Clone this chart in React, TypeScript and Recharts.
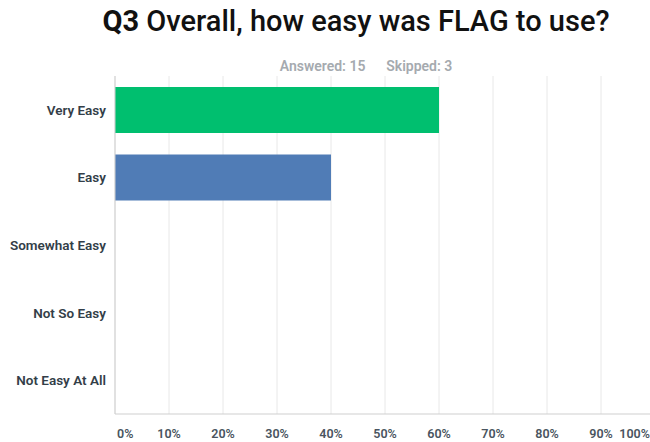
import React from "react";
import { BarChart, Bar, XAxis, YAxis, CartesianGrid, Cell } from "recharts";

const categories = ["Very Easy", "Easy", "Somewhat Easy", "Not So Easy", "Not Easy At All"];
const percents = [60, 40, 0, 0, 0];
const barColors = ["#00BF6F", "#507CB6", "#507CB6", "#507CB6", "#507CB6"];
const xTicks = [0, 10, 20, 30, 40, 50, 60, 70, 80, 90, 100];

const data = categories.map((c, i) => ({ name: c, value: percents[i] }));

const FONT = "Roboto, 'Noto Sans', sans-serif";

const XTick = (props: any) => {
  const { x, y, payload } = props;
  let anchor: "start" | "middle" | "end" = "middle";
  let tx = x;
  if (payload.value === 0) {
    anchor = "start";
    tx = x + 2;
  } else if (payload.value === 100) {
    anchor = "end";
    tx = x - 5;
  }
  return (
    <text x={tx} y={y} dy={24} textAnchor={anchor} fontSize={12.5} fontWeight={600} fill="#4a5560" fontFamily={FONT}>
      {payload.value}%
    </text>
  );
};

const YTick = (props: any) => {
  const { x, y, payload } = props;
  return (
    <text x={x - 9} y={y} dy={5} textAnchor="end" fontSize={13.5} fontWeight={600} fill="#333e48" fontFamily={FONT}>
      {payload.value}
    </text>
  );
};

export default function App() {
  return (
    <div
      style={{
        position: "fixed",
        left: 0,
        top: 0,
        width: 650,
        height: 442,
        overflow: "hidden",
        background: "#fff",
        fontFamily: FONT,
      }}
    >
      <div
        style={{
          position: "absolute",
          left: 0,
          top: 3,
          width: 712,
          textAlign: "center",
          fontSize: 29,
          color: "#111",
          lineHeight: "36px",
          whiteSpace: "nowrap",
        }}
      >
        <span style={{ fontWeight: 700 }}>Q3</span>{" "}
        <span style={{ fontWeight: 500 }}>Overall, how easy was FLAG to use?</span>
      </div>
      <div
        style={{
          position: "absolute",
          left: 0,
          top: 58,
          width: 732,
          textAlign: "center",
          fontSize: 14,
          fontWeight: 600,
          color: "#a5aaaf",
          whiteSpace: "pre",
        }}
      >
        {"Answered: 15      Skipped: 3"}
      </div>
      <div style={{ position: "absolute", left: 0, top: 0 }}>
        <BarChart
          width={660}
          height={442}
          layout="vertical"
          data={data}
          margin={{ top: 76, right: 5, bottom: 0, left: 0 }}
          barCategoryGap={11}
        >
          <CartesianGrid horizontal={false} vertical={true} stroke="#e8e8e8" />
          <XAxis
            type="number"
            domain={[0, 100]}
            ticks={xTicks}
            interval={0}
            height={28}
            tickLine={false}
            tickSize={0}
            tickMargin={0}
            axisLine={{ stroke: "#cfcfcf" }}
            tick={<XTick />}
          />
          <YAxis
            type="category"
            dataKey="name"
            width={115}
            tickLine={false}
            tickSize={0}
            tickMargin={0}
            axisLine={{ stroke: "#cfcfcf" }}
            tick={<YTick />}
          />
          <Bar dataKey="value" isAnimationActive={false}>
            {data.map((d, i) => (
              <Cell key={d.name} fill={barColors[i]} />
            ))}
          </Bar>
        </BarChart>
      </div>
    </div>
  );
}
